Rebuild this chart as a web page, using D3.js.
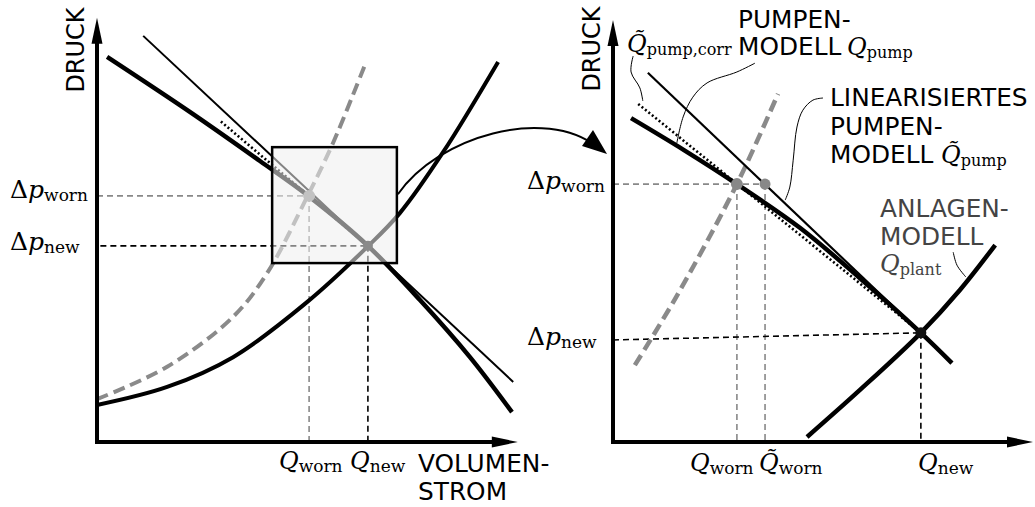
<!DOCTYPE html>
<html>
<head>
<meta charset="utf-8">
<script src="https://cdn.jsdelivr.net/npm/d3@7"></script>
<style>
  html, body { margin: 0; padding: 0; background: #fff; }
  svg { display: block; }
</style>
</head>
<body>
<script>
// Schematic units on both panels: volume flow 0–100, pressure 0–100.

// ---------- left panel: full operating map ----------
const leftPumpCurve = [[2.4, 91.7], [22.1, 78.6], [38.8, 66.9], [50.7, 58.3], [64.5, 46.7], [76.9, 33.8], [88.8, 20.2], [98.8, 7.1]];
const leftPumpTangent = [[11.0, 96.7], [99.1, 14.3]];
const leftPumpSecant = [[29.5, 76.3], [64.5, 46.7]];
const leftPlantWorn = [[0, 10.2], [16.7, 17.9], [32.4, 29.8], [40.5, 40.2], [50.0, 58.3], [56.2, 71.2], [63.8, 89.8]];
const leftPlantNew = [[0, 8.8], [16.7, 13.1], [32.4, 20.2], [50.0, 33.3], [64.3, 46.4], [72.1, 54.5], [82.4, 69.0], [95.5, 90.5]];
const leftWorn = [50.5, 58.6];
const leftNew = [64.5, 46.7];
const zoomBox = [41.7, 42.6, 71.4, 70.2]; // q0, p0, q1, p1

// ---------- right panel: zoomed detail ----------
const rightPumpCurve = [[4.3, 77.1], [16.9, 69.5], [29.5, 61.4], [44.5, 51.0], [58.8, 39.0], [73.3, 26.0], [80.7, 18.8]];
const rightPumpLinear = [[8.3, 87.9], [73.3, 26.0]];
const rightPumpCorr = [[6.0, 80.5], [73.3, 26.0]];
const rightPlantWorn = [[5.2, 18.3], [15.2, 34.8], [29.5, 61.4], [39.3, 82.9]];
const rightPlantNew = [[46.2, 1.2], [58.8, 12.4], [73.3, 26.0], [82.6, 36.2], [91.0, 46.9]];
const rightWorn = [29.5, 61.4];
const rightWornLinear = [36.2, 61.4];
const rightNew = [73.3, 26.0];
const rightNewLevel = [24.3, 26.0]; // pressure at the axis, pressure at the operating point

// leader lines from the annotations to their curves
const leaderCorr = [[4.8, 91.9], [4.3, 88.1], [6.4, 84.3], [7.1, 81.2]];
const leaderPump = [[33.8, 90.2], [29.5, 88.1], [22.4, 85.5], [19.0, 82.1], [16.7, 77.4], [15.2, 71.2]];
const leaderLinear = [[50.0, 81.9], [47.6, 81.4], [45.2, 79.0], [43.8, 75.0], [42.9, 67.1], [42.1, 60.7], [41.0, 57.6]];
const leaderPlant = [[81.0, 45.2], [81.9, 42.1], [84.0, 39.3]];

// ---------- labels ----------
const axisX = ["VOLUMEN-", "STROM"];
const axisY = "DRUCK";
const pumpLabel = ["PUMPEN-", "MODELL"];
const linLabel = ["LINEARISIERTES", "PUMPEN-", "MODELL"];
const plantLabel = ["ANLAGEN-", "MODELL"];

const W = 1035, H = 507;
const svg = d3.select("body").append("svg").attr("width", W).attr("height", H);

const SANS = "DejaVu Sans", SERIF = "DejaVu Serif";
const SANS_SIZE = 24.8;

const xL = d3.scaleLinear().domain([0, 100]).range([97, 517]);
const yL = d3.scaleLinear().domain([0, 100]).range([442, 22]);
const xR = d3.scaleLinear().domain([0, 100]).range([613, 1033]);
const yR = d3.scaleLinear().domain([0, 100]).range([442, 22]);

function lineGen(xs, ys, curved) {
  const l = d3.line().x(d => xs(d[0])).y(d => ys(d[1]));
  return curved ? l.curve(d3.curveCatmullRom.alpha(0.5)) : l;
}

function drawPath(g, data, xs, ys, style, curved = true) {
  const p = g.append("path").attr("d", lineGen(xs, ys, curved)(data)).attr("fill", "none");
  Object.entries(style).forEach(([k, v]) => p.attr(k, v));
  return p;
}

function axes(g, xs, ys, xTip, yTip) {
  const x0 = xs(0), y0 = ys(0);
  const xt = xs(xTip), yt = ys(yTip);
  g.append("line").attr("x1", x0).attr("y1", y0 + 2).attr("x2", x0).attr("y2", yt + 20)
    .attr("stroke", "#000").attr("stroke-width", 4);
  g.append("line").attr("x1", x0 - 2).attr("y1", y0).attr("x2", xt - 20).attr("y2", y0)
    .attr("stroke", "#000").attr("stroke-width", 4);
  g.append("path").attr("d", `M${x0},${yt} L${x0 - 5.5},${yt + 26} L${x0 + 5.5},${yt + 26} Z`).attr("fill", "#000");
  g.append("path").attr("d", `M${xt},${y0} L${xt - 26},${y0 - 5.5} L${xt - 26},${y0 + 5.5} Z`).attr("fill", "#000");
}

function mathLabel(g, x, y, main, sub, opts = {}) {
  const t = g.append("text").attr("x", x).attr("y", y)
    .attr("font-family", SERIF).attr("fill", opts.fill || "#000")
    .attr("text-anchor", opts.anchor || "start");
  if (main[0] === "Δ") {
    t.append("tspan").attr("font-size", 25).text("Δ");
    t.append("tspan").attr("font-size", 25).attr("font-style", "italic").text(main.slice(1));
  } else {
    t.append("tspan").attr("font-size", 24).attr("font-style", "italic").text(main);
  }
  t.append("tspan").attr("font-size", opts.subSize || 17).attr("dy", 3).text(sub);
  return t;
}

function sansLines(g, x, y, lines, lh, fill = "#000") {
  lines.forEach((s, i) => {
    g.append("text").attr("x", x).attr("y", y + i * lh)
      .attr("font-family", SANS).attr("font-size", SANS_SIZE).attr("fill", fill).text(s);
  });
}

const refDash = { stroke: "#000", "stroke-width": 1.6, "stroke-dasharray": "6,4" };
const refDashGray = { stroke: "#888", "stroke-width": 1.6, "stroke-dasharray": "6,4" };

// ================= left panel =================
const L = svg.append("g");

// reference levels
drawPath(L, [[0, leftWorn[1]], leftWorn], xL, yL, refDashGray, false);
drawPath(L, [leftWorn, [leftWorn[0], 0]], xL, yL, refDashGray, false);
drawPath(L, [[0.8, leftNew[1]], leftNew], xL, yL, refDash, false);
drawPath(L, [leftNew, [leftNew[0], 0]], xL, yL, refDash, false);

// plant curves
drawPath(L, leftPlantWorn, xL, yL, { stroke: "#8a8a8a", "stroke-width": 4, "stroke-dasharray": "12,6" });
drawPath(L, leftPlantNew, xL, yL, { stroke: "#000", "stroke-width": 4 });

// pump curves
drawPath(L, leftPumpTangent, xL, yL, { stroke: "#000", "stroke-width": 2 }, false);
drawPath(L, leftPumpCurve, xL, yL, { stroke: "#000", "stroke-width": 4.5 });
drawPath(L, leftPumpSecant, xL, yL, { stroke: "#000", "stroke-width": 2.6, "stroke-dasharray": "2,2.4" }, false);

// operating points
L.append("circle").attr("cx", xL(leftWorn[0])).attr("cy", yL(leftWorn[1])).attr("r", 6).attr("fill", "#8c8c8c");
L.append("circle").attr("cx", xL(leftNew[0])).attr("cy", yL(leftNew[1])).attr("r", 5).attr("fill", "#111");

// zoom window: translucent veil over the region shown on the right
L.append("rect")
  .attr("x", xL(zoomBox[0])).attr("y", yL(zoomBox[3]))
  .attr("width", xL(zoomBox[2]) - xL(zoomBox[0]))
  .attr("height", yL(zoomBox[1]) - yL(zoomBox[3]))
  .attr("fill", "#efefef").attr("fill-opacity", 0.55)
  .attr("stroke", "#000").attr("stroke-width", 2.5);

axes(L, xL, yL, 100.2, 101);

// axis titles
L.append("text").attr("transform", `translate(84,50) rotate(-90)`)
  .attr("text-anchor", "middle").attr("font-family", SANS).attr("font-size", 24).text(axisY);
sansLines(L, 418, 472, axisX, 28);

mathLabel(L, 10, 198, "Δp", "worn");
mathLabel(L, 10, 250, "Δp", "new");
mathLabel(L, 279, 469, "Q", "worn");
mathLabel(L, 350, 469, "Q", "new");

// transfer arrow from the zoom window to the detail panel
const aStart = [xL(zoomBox[2]) + 1, yL(59)];
const aEnd = [xR(0) - 6, yR(68.6)];
svg.append("path")
  .attr("d", `M${aStart[0]},${aStart[1]} C${aStart[0] + 40},${aStart[1] - 58} ${aEnd[0] - 62},${aEnd[1] - 48} ${aEnd[0] - 10},${aEnd[1] - 7}`)
  .attr("fill", "none").attr("stroke", "#000").attr("stroke-width", 2);
svg.append("path")
  .attr("d", `M${aEnd[0]},${aEnd[1]} L${aEnd[0] - 25},${aEnd[1] - 8} L${aEnd[0] - 14},${aEnd[1] - 24} Z`)
  .attr("fill", "#000");

// ================= right panel =================
const R = svg.append("g");

drawPath(R, [[0, rightWorn[1]], rightWornLinear], xR, yR, refDashGray, false);
drawPath(R, [rightWorn, [rightWorn[0], 0]], xR, yR, refDashGray, false);
drawPath(R, [rightWornLinear, [rightWornLinear[0], 0]], xR, yR, refDashGray, false);
drawPath(R, [[0, rightNewLevel[0]], [rightNew[0], rightNewLevel[1]]], xR, yR, refDash, false);
drawPath(R, [rightNew, [rightNew[0], 0]], xR, yR, refDash, false);

drawPath(R, rightPlantWorn, xR, yR, { stroke: "#8a8a8a", "stroke-width": 4.5, "stroke-dasharray": "12,6" });
drawPath(R, rightPumpLinear, xR, yR, { stroke: "#000", "stroke-width": 2.2 }, false);
drawPath(R, rightPumpCurve, xR, yR, { stroke: "#000", "stroke-width": 4.5 });
drawPath(R, rightPumpCorr, xR, yR, { stroke: "#000", "stroke-width": 2.6, "stroke-dasharray": "2,2.4" }, false);
drawPath(R, rightPlantNew, xR, yR, { stroke: "#000", "stroke-width": 4.5 });

R.append("circle").attr("cx", xR(rightWorn[0])).attr("cy", yR(rightWorn[1])).attr("r", 6).attr("fill", "#888");
R.append("circle").attr("cx", xR(rightWornLinear[0])).attr("cy", yR(rightWornLinear[1])).attr("r", 5.5).attr("fill", "#888");
R.append("circle").attr("cx", xR(rightNew[0])).attr("cy", yR(rightNew[1])).attr("r", 5.5).attr("fill", "#111");

[leaderCorr, leaderPump, leaderLinear, leaderPlant].forEach(d =>
  drawPath(R, d, xR, yR, { stroke: "#000", "stroke-width": 1 }));

axes(R, xR, yR, 100, 100.5);

R.append("text").attr("transform", `translate(600,49) rotate(-90)`)
  .attr("text-anchor", "middle").attr("font-family", SANS).attr("font-size", 24).text(axisY);

mathLabel(R, 527, 189, "Δp", "worn");
mathLabel(R, 527, 345, "Δp", "new");
mathLabel(R, 690, 471, "Q", "worn");
mathLabel(R, 759, 471, "Q\u0303", "worn");
mathLabel(R, 918, 471, "Q", "new");

mathLabel(R, 627, 52, "Q\u0303", "pump,corr", { subSize: 16 });

sansLines(R, 738, 28, pumpLabel, 27);
mathLabel(R, 847, 55, "Q", "pump", { subSize: 16 });

sansLines(R, 830, 106, linLabel, 28.5);
mathLabel(R, 941, 163, "Q\u0303", "pump", { subSize: 16 });

sansLines(R, 880, 217, plantLabel, 28, "#444");
mathLabel(R, 880, 272, "Q", "plant", { fill: "#444", subSize: 16 });
</script>
</body>
</html>
